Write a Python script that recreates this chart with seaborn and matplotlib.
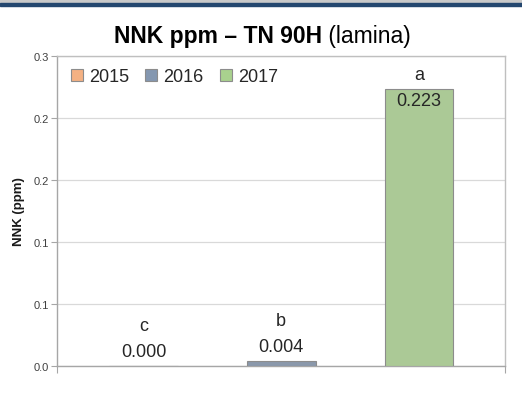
import matplotlib
matplotlib.use("Agg")
import matplotlib.pyplot as plt
from matplotlib.patches import Patch, Rectangle
import pandas as pd
import seaborn as sns

# data
years = ["2015", "2016", "2017"]
nnk_ppm = [0.000, 0.004, 0.223]
letters = ["c", "b", "a"]
colors = ["#F4B183", "#8497B0", "#A9D18E"]
y_ticks = [0.0, 0.05, 0.10, 0.15, 0.20, 0.25]

df = pd.DataFrame({"year": years, "nnk": nnk_ppm})

sns.set_theme(style="white")
plt.rcParams["font.family"] = ["Liberation Sans", "DejaVu Sans"]

fig = plt.figure(figsize=(5.22, 4.02), dpi=100)
ax = fig.add_axes([57 / 522, 1 - 367 / 402, 448 / 522, 310 / 402])

# slide header strip
fig.patches.append(Rectangle((0, 1 - 4 / 402), 1, 4 / 402, transform=fig.transFigure,
                             color="#C9C9C9", zorder=0))
fig.patches.append(Rectangle((0, 1 - 6.5 / 402), 1, 2.5 / 402, transform=fig.transFigure,
                             color="#24476F", zorder=1))

sns.barplot(data=df, x="year", y="nnk", hue="year", palette=colors, order=years,
            width=0.5, edgecolor="#8C8C8C", linewidth=0.8, legend=False, ax=ax, zorder=3)

ax.set_xlim(-0.628, 2.624)
ax.set_ylim(0, 0.25)
ax.set_yticks(y_ticks)
# Excel-style half-up rounding to one decimal
ax.set_yticklabels([f"{v + 1e-9:.1f}" for v in y_ticks], fontsize=8, color="#404040")
ax.set_xticks([-0.628, 2.624])
ax.set_xticklabels(["", ""])
ax.tick_params(axis="y", length=4, width=0.8, color="#A6A6A6", pad=2, left=True)
ax.tick_params(axis="x", length=5, width=0.8, color="#A6A6A6", bottom=True)
ax.yaxis.grid(True, color="#D9D9D9", linewidth=0.9, zorder=0)
ax.set_axisbelow(True)
for side in ["top", "right", "left", "bottom"]:
    ax.spines[side].set_visible(True)
    ax.spines[side].set_color("#BFBFBF")
    ax.spines[side].set_linewidth(1.0)
ax.spines["bottom"].set_color("#A6A6A6")
ax.spines["left"].set_color("#A6A6A6")

ax.set_xlabel("")
ax.set_ylabel("NNK (ppm)", fontsize=9.5, fontweight="bold", color="#1A1A1A", labelpad=6)

# value labels and significance letters
for i, (v, letter) in enumerate(zip(nnk_ppm, letters)):
    if v > 0.1:
        ax.annotate(f"{v:.3f}", (i, v), xytext=(0, -2), textcoords="offset points",
                    ha="center", va="top", fontsize=13, color="#262626")
        ax.annotate(letter, (i, v), xytext=(0, 5), textcoords="offset points",
                    ha="center", va="bottom", fontsize=13, color="#262626")
    else:
        ax.annotate(f"{v:.3f}", (i, v), xytext=(0, 4), textcoords="offset points",
                    ha="center", va="bottom", fontsize=13, color="#262626")
        ax.annotate(letter, (i, v), xytext=(0, 23), textcoords="offset points",
                    ha="center", va="bottom", fontsize=13, color="#262626")

handles = [Patch(facecolor=c, edgecolor="#8C8C8C", linewidth=0.8) for c in colors]
ax.legend(handles, years, loc="upper left", bbox_to_anchor=(0.015, 0.985), ncol=3,
          frameon=False, fontsize=13, handlelength=0.65, handleheight=0.65,
          handletextpad=0.35, columnspacing=0.9, borderaxespad=0)

# title: bold part + regular part
fig.text(322 / 522, 1 - 43 / 402, "NNK ppm \u2013 TN 90H", ha="right", va="baseline",
         fontsize=16.5, fontweight="bold", color="#000000")
fig.text(322 / 522, 1 - 43 / 402, " (lamina)", ha="left", va="baseline",
         fontsize=16.5, color="#000000")

fig.savefig("out.png", dpi=100)
